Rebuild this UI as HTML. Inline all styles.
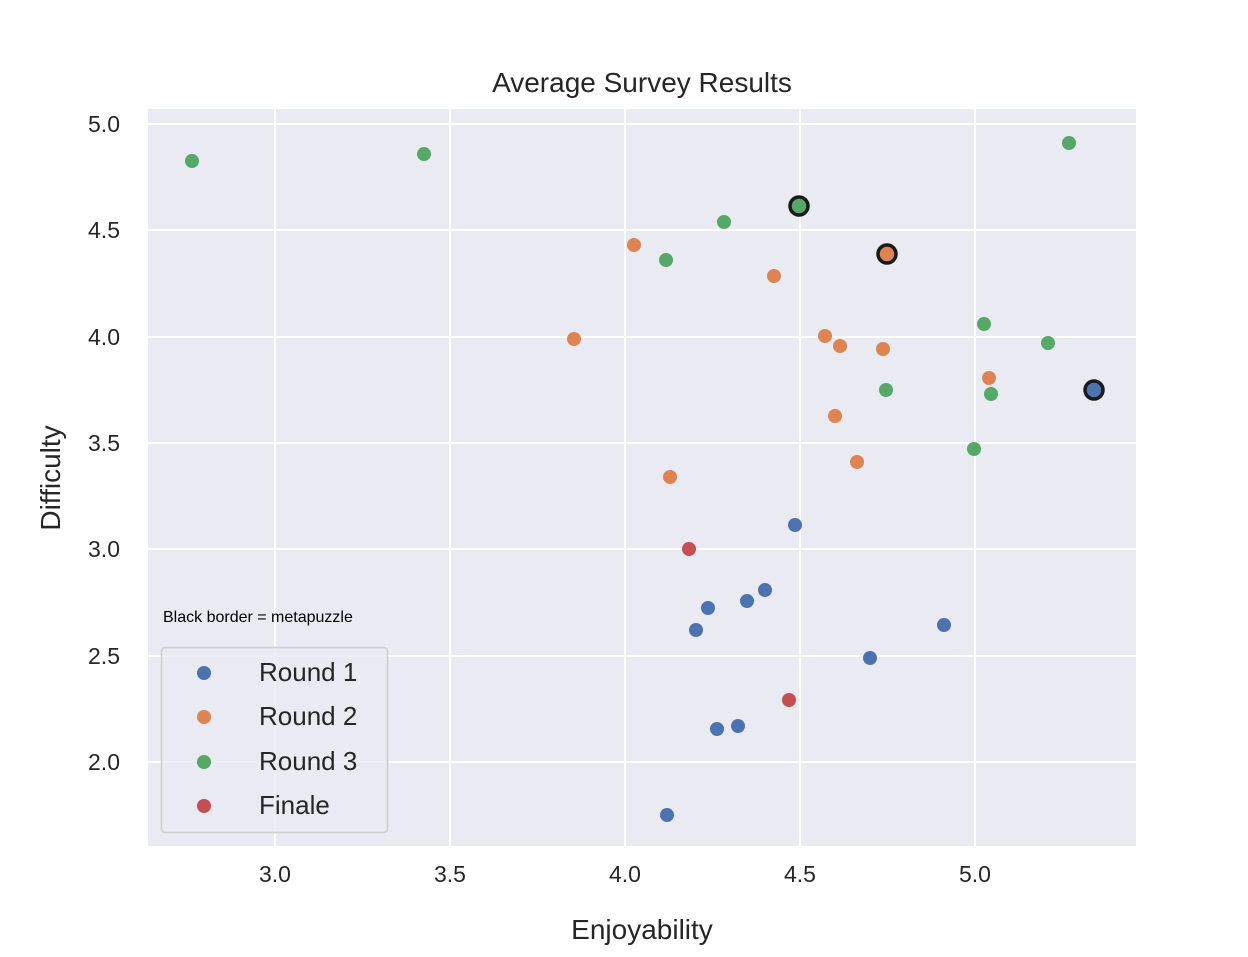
<!DOCTYPE html>
<html><head><style>body{margin:0;background:#fff}</style></head><body>
<svg width="1248" height="952" xmlns="http://www.w3.org/2000/svg" font-family="'Liberation Sans', 'DejaVu Sans', sans-serif" fill="#262626">
<rect x="148" y="109" width="988" height="737" fill="#eaeaf2"/>
<g stroke="#fff" stroke-width="2">
<line x1="275" y1="109" x2="275" y2="846"/><line x1="450" y1="109" x2="450" y2="846"/><line x1="625" y1="109" x2="625" y2="846"/><line x1="800" y1="109" x2="800" y2="846"/><line x1="975" y1="109" x2="975" y2="846"/>
<line x1="148" y1="124" x2="1136" y2="124"/><line x1="148" y1="230" x2="1136" y2="230"/><line x1="148" y1="337" x2="1136" y2="337"/><line x1="148" y1="443" x2="1136" y2="443"/><line x1="148" y1="549" x2="1136" y2="549"/><line x1="148" y1="656" x2="1136" y2="656"/><line x1="148" y1="762" x2="1136" y2="762"/>
</g>
<g font-size="23" text-anchor="middle">
<text x="275" y="882">3.0</text><text x="450" y="882">3.5</text><text x="625" y="882">4.0</text><text x="800" y="882">4.5</text><text x="975" y="882">5.0</text>
</g>
<g font-size="23" text-anchor="end">
<text x="120" y="132">5.0</text><text x="120" y="238">4.5</text><text x="120" y="345">4.0</text><text x="120" y="451">3.5</text><text x="120" y="557">3.0</text><text x="120" y="664">2.5</text><text x="120" y="770">2.0</text>
</g>
<text x="642" y="92" font-size="28" text-anchor="middle">Average Survey Results</text>
<text x="642" y="939" font-size="28" text-anchor="middle">Enjoyability</text>
<text transform="translate(60,478) rotate(-90)" font-size="28" text-anchor="middle">Difficulty</text>
<g fill="#55a868">
<circle cx="192" cy="161" r="7"/><circle cx="424" cy="154" r="7"/><circle cx="1069" cy="143" r="7"/><circle cx="799" cy="206" r="9" stroke="#1a1a1a" stroke-width="3.5"/><circle cx="724" cy="222" r="7"/><circle cx="666" cy="260" r="7"/><circle cx="984" cy="324" r="7"/><circle cx="1048" cy="343" r="7"/><circle cx="886" cy="390" r="7"/><circle cx="991" cy="394" r="7"/><circle cx="974" cy="449" r="7"/>
</g>
<g fill="#dd8452">
<circle cx="634" cy="245" r="7"/><circle cx="774" cy="276" r="7"/><circle cx="887" cy="254" r="9" stroke="#1a1a1a" stroke-width="3.5"/><circle cx="574" cy="339" r="7"/><circle cx="825" cy="336" r="7"/><circle cx="840" cy="346" r="7"/><circle cx="883" cy="349" r="7"/><circle cx="989" cy="378" r="7"/><circle cx="835" cy="416" r="7"/><circle cx="857" cy="462" r="7"/><circle cx="670" cy="477" r="7"/>
</g>
<g fill="#4c72b0">
<circle cx="1094" cy="390" r="9" stroke="#1a1a1a" stroke-width="3.5"/><circle cx="795" cy="525" r="7"/><circle cx="765" cy="590" r="7"/><circle cx="747" cy="601" r="7"/><circle cx="708" cy="608" r="7"/><circle cx="696" cy="630" r="7"/><circle cx="944" cy="625" r="7"/><circle cx="870" cy="658" r="7"/><circle cx="717" cy="729" r="7"/><circle cx="738" cy="726" r="7"/><circle cx="667" cy="815" r="7"/>
</g>
<g fill="#c44e52"><circle cx="689" cy="549" r="7"/><circle cx="789" cy="700" r="7"/></g>
<text x="163" y="622" font-size="16" fill="#000">Black border = metapuzzle</text>
<rect x="161.5" y="647.5" width="226" height="185" rx="4" fill="#eaeaf2" fill-opacity="0.8" stroke="#ccc" stroke-width="1.5"/>
<circle cx="204" cy="673" r="7" fill="#4c72b0"/><circle cx="204" cy="717" r="7" fill="#dd8452"/><circle cx="204" cy="762" r="7" fill="#55a868"/><circle cx="204" cy="806" r="7" fill="#c44e52"/>
<g font-size="26"><text x="259" y="681">Round 1</text><text x="259" y="725">Round 2</text><text x="259" y="770">Round 3</text><text x="259" y="814">Finale</text></g>
</svg>
</body></html>
